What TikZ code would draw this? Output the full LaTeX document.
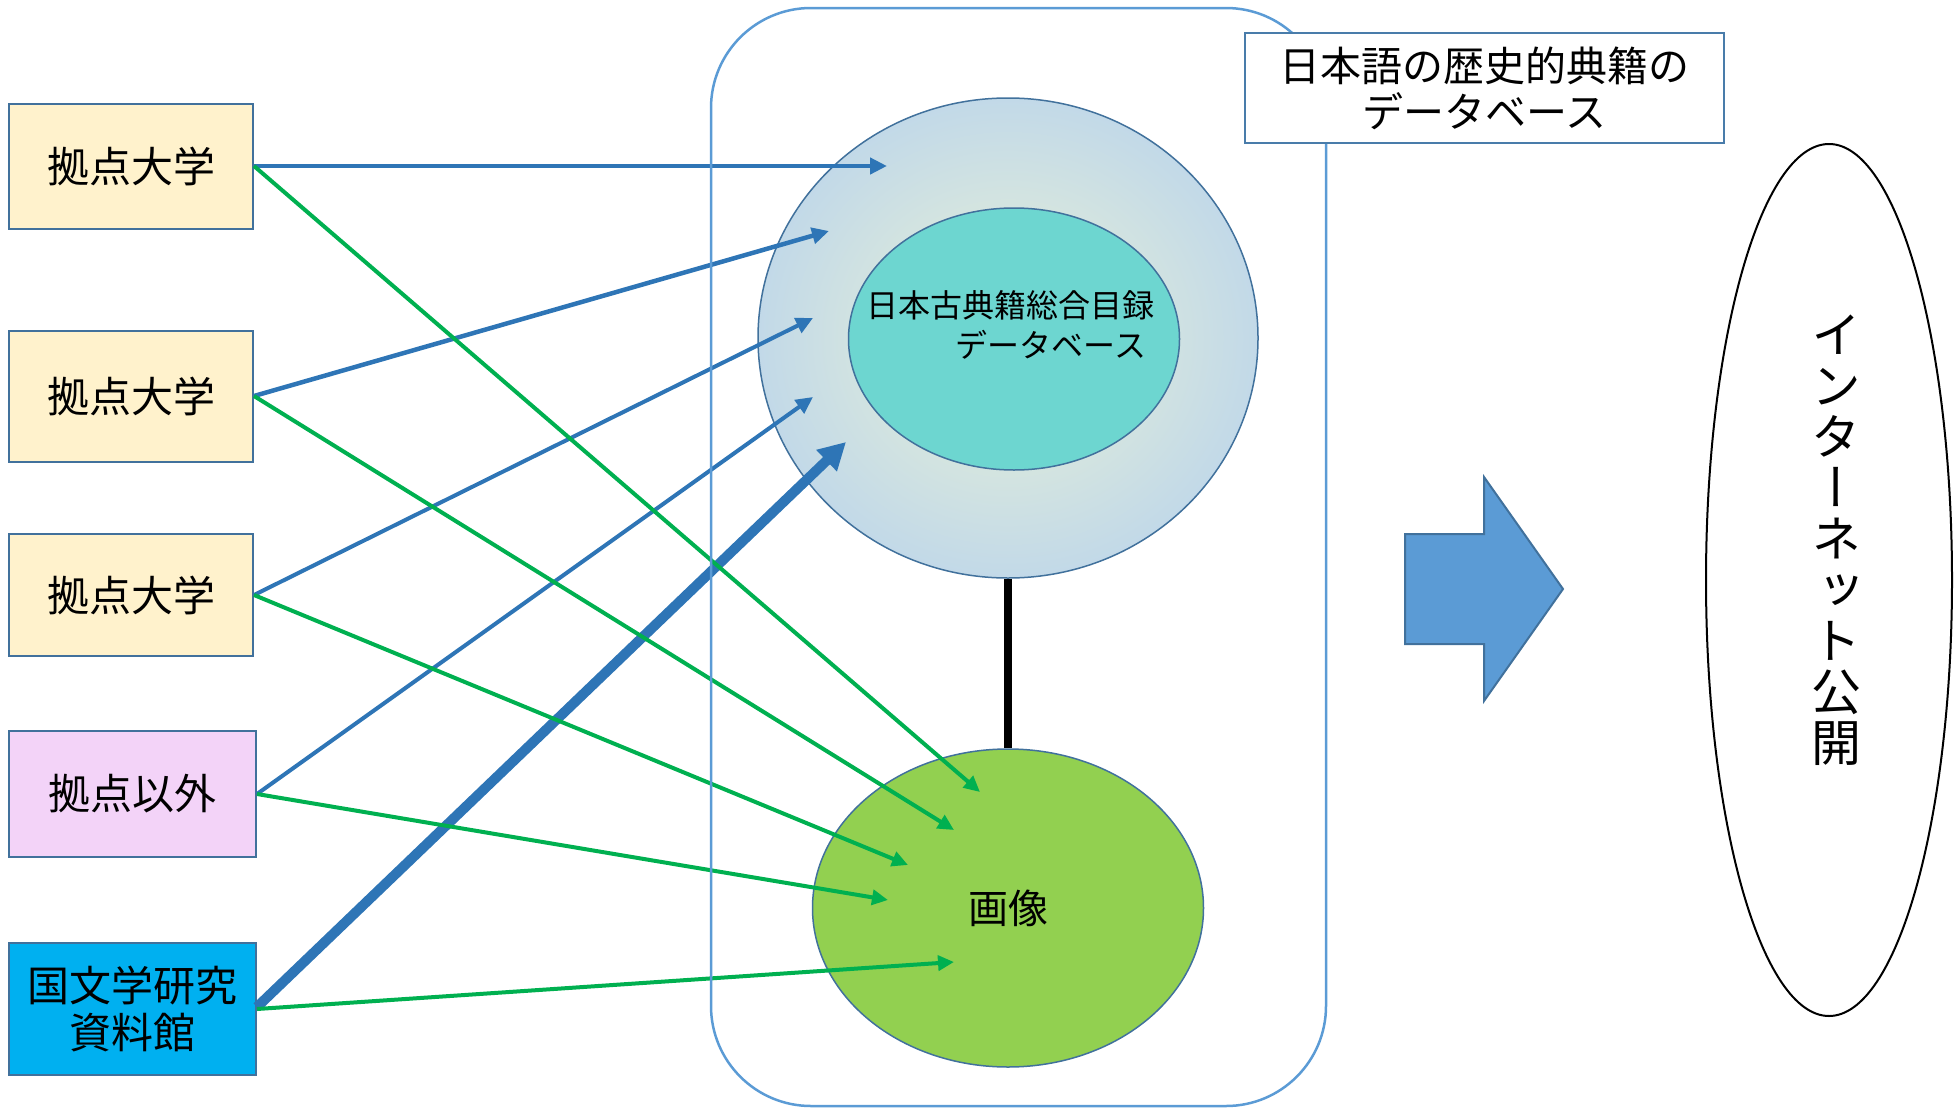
\documentclass[tikz,border=0pt]{standalone}
\usepackage{fontspec}
\setmainfont{Noto Sans CJK JP}
\newfontfamily\vertjp[RawFeature={+vert}]{Noto Sans CJK JP}
\usepackage{tikz}
\usetikzlibrary{shapes.geometric,arrows.meta}
\definecolor{boxYellow}{RGB}{255,242,204}
\definecolor{boxPink}{RGB}{243,211,248}
\definecolor{boxCyan}{RGB}{0,176,240}
\definecolor{edgeBlue}{RGB}{65,113,156}
\definecolor{frameBlue}{RGB}{91,155,213}
\definecolor{lineBlue}{RGB}{46,117,182}
\definecolor{lineGreen}{RGB}{0,176,80}
\definecolor{catTeal}{RGB}{109,214,208}
\definecolor{imgGreen}{RGB}{146,208,80}
\definecolor{dbInner}{RGB}{216,231,222}
\definecolor{dbOuter}{RGB}{194,217,232}
\pgfdeclareradialshading{dbglow}{\pgfpoint{0bp}{0bp}}{color(0bp)=(dbInner); color(11bp)=(dbInner); color(25bp)=(dbOuter); color(50bp)=(dbOuter)}

\begin{document}
\begin{tikzpicture}[x=0.5pt, y=-0.5pt]%
  \tikzset{src box/.style={draw=edgeBlue, line width=1pt, inner sep=0pt, align=center, font=\fontsize{21pt}{23.5pt}\selectfont}}
  \tikzset{blue arrow/.style={lineBlue, line width=2.25pt, -{Triangle[length=8.5pt,width=8pt]}}}
  \tikzset{green arrow/.style={lineGreen, line width=2pt, -{Triangle[length=8pt,width=7.5pt]}}}
  \tikzset{big arrow/.style={lineBlue, line width=5pt, -{Triangle[length=13.5pt,width=14pt]}}}
  \useasboundingbox (0,0) rectangle (1954,1108);

  % sources
  \node[src box, fill=boxYellow, minimum width=122pt, minimum height=62.5pt] at (131,166) (U1) {拠点大学};
  \node[src box, fill=boxYellow, minimum width=122pt, minimum height=65.5pt] at (131,396) (U2) {拠点大学};
  \node[src box, fill=boxYellow, minimum width=122pt, minimum height=61pt] at (131,595) (U3) {拠点大学};
  \node[src box, fill=boxPink, minimum width=123.5pt, minimum height=63pt] at (132.5,794) (OTH) {拠点以外};
  \node[src box, fill=boxCyan, minimum width=123.5pt, minimum height=66pt] at (132.5,1009) (NIJL) {国文学研究\\資料館};

  % databases
  \node[ellipse, draw=edgeBlue, line width=0.75pt, shading=dbglow, minimum width=250pt, minimum height=240pt] at (1008,338) (DB) {};
  \node[ellipse, draw=edgeBlue, line width=0.75pt, fill=catTeal, minimum width=165.5pt, minimum height=131pt] at (1014,339) (CAT) {};
  \node[align=left, inner sep=0pt, font=\fontsize{16pt}{20pt}\selectfont] at (1010,325) (CATtxt) {日本古典籍総合目録\\\hspace*{2.8em}データベース};
  \node[ellipse, draw=edgeBlue, line width=0.75pt, fill=imgGreen, minimum width=195.5pt, minimum height=159pt, font=\fontsize{20pt}{24pt}\selectfont] at (1008,908) (IMG) {画像};
  \draw[line width=4pt] (DB.south) -- (IMG.north);

  % free ends of the arrows
  \coordinate (d1) at (887,166);
  \coordinate (d2) at (829,231);
  \coordinate (d3) at (813,318);
  \coordinate (d4) at (813,397);
  \coordinate (d5) at (846,442);
  \coordinate (g1) at (980,792);
  \coordinate (g2) at (954,830);
  \coordinate (g3) at (908,865);
  \coordinate (g4) at (888,900);
  \coordinate (g5) at (954,962);

  \draw[blue arrow] (U1.east) -- (d1);
  \draw[blue arrow] (U2.east) -- (d2);
  \draw[blue arrow, line width=2pt] (U3.east) -- (d3);
  \draw[blue arrow, line width=2pt] (OTH.east) -- (d4);
  \draw[big arrow] ([yshift=1pt]NIJL.east) -- (d5);
  \draw[green arrow] (U1.east) -- (g1);
  \draw[green arrow] (U2.east) -- (g2);
  \draw[green arrow] (U3.east) -- (g3);
  \draw[green arrow] (OTH.east) -- (g4);
  \draw[green arrow] (NIJL.east) -- (g5);

  % frame and title
  \node[draw=frameBlue, line width=1.25pt, rounded corners=50pt, minimum width=307.5pt, minimum height=549pt] at (1018.5,557) (FRAME) {};
  \node[draw=frameBlue!80!black, line width=1pt, fill=white, minimum width=239.5pt, minimum height=55pt, align=center, font=\fontsize{20.5pt}{23pt}\selectfont] at (1484.5,88) (TITLE) {日本語の歴史的典籍の\\データベース};

  % publication
  \draw[draw=edgeBlue, line width=1pt, fill=frameBlue] (1405,534) -- (1484,534) -- (1484,477) -- (1563,589) -- (1484,701) -- (1484,644) -- (1405,644) -- cycle;
  \node[ellipse, draw, line width=1pt, minimum width=123pt, minimum height=436pt] at (1829,580) (NET) {};
  \node[align=center, inner sep=0pt, font=\vertjp\fontsize{25pt}{25.5pt}\selectfont] at (1836,540) (NETtxt) {イ\\ン\\タ\\ー\\ネ\\ッ\\ト\\公\\開};
\end{tikzpicture}
\end{document}
